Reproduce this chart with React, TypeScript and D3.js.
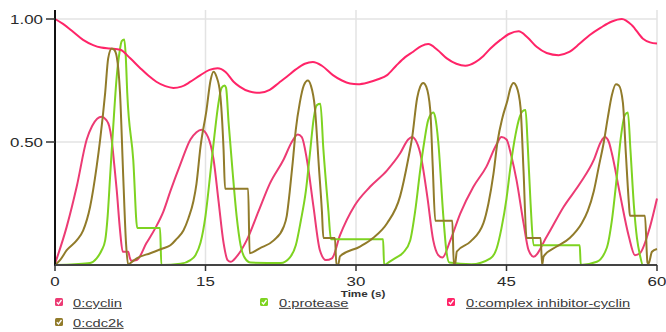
import React from "react";
import * as d3 from "d3";

type P = [number, number];

const seriesNames = ["0:cyclin", "0:protease", "0:complex inhibitor-cyclin", "0:cdc2k"];
const seriesColors = ["#ec3b74", "#7ed321", "#ff2468", "#917b2a"];
const xTicks = [0, 15, 30, 45, 60];
const yTicks = [0.5, 1.0];
const yTickLabels = ["0.50", "1.00"];

const cyclin: P[] = [
  [0, 0.005], [1.17, 0.156], [2.16, 0.318], [3.16, 0.51], [3.7, 0.565], [4.2, 0.595], [4.65, 0.603], [5.1, 0.59], [5.4, 0.565], [5.65, 0.51], [5.9, 0.41], [6.15, 0.305], [6.48, 0.142], [6.75, 0.054], [7.3, 0.054], [7.45, 0.03], [7.65, 0.017], [8.15, 0.02], [9.1, 0.088], [10.0, 0.15], [10.8, 0.217], [11.5, 0.3], [12.5, 0.41], [13.5, 0.51], [14.1, 0.54], [14.6, 0.55], [15.25, 0.52], [15.8, 0.43], [16.3, 0.26], [16.8, 0.09], [17.2, 0.02], [17.5, 0.013], [18.1, 0.034], [19.1, 0.1], [20.3, 0.22], [21.4, 0.33], [22.8, 0.43], [23.6, 0.5], [24.2, 0.53], [24.6, 0.52], [25.1, 0.43], [25.75, 0.24], [26.4, 0.06], [27.0, 0.02], [27.6, 0.027], [28.4, 0.12], [29.9, 0.244], [31.4, 0.318], [33.1, 0.385], [34.4, 0.454], [35.2, 0.51], [35.6, 0.52], [35.9, 0.51], [36.4, 0.455], [37.1, 0.28], [37.7, 0.1], [38.2, 0.04], [38.6, 0.03], [39.4, 0.1], [40.4, 0.21], [41.7, 0.318], [43.0, 0.4], [44.0, 0.49], [44.5, 0.52], [45.0, 0.51], [45.5, 0.44], [46.0, 0.345], [46.7, 0.17], [47.2, 0.06], [47.7, 0.034], [49.0, 0.115], [50.7, 0.237], [52.3, 0.33], [53.7, 0.427], [54.4, 0.5], [54.8, 0.52], [55.2, 0.5], [55.5, 0.454], [56.3, 0.29], [57.2, 0.115], [57.8, 0.04], [58.3, 0.048], [59.3, 0.155], [60, 0.27],
];

const protease: P[] = [
  [0, 0], [2, 0.003], [3.5, 0.008], [4.15, 0.027], [4.65, 0.06], [5.0, 0.1], [5.25, 0.2], [5.5, 0.365], [5.8, 0.56], [6.15, 0.765], [6.45, 0.87], [6.65, 0.91], [6.9, 0.917], [7.05, 0.85], [7.2, 0.7], [7.8, 0.427], [8.2, 0.15], [10.47, 0.15], [10.6, 0.0], [12.5, 0.005], [13.5, 0.02], [14.0, 0.04], [14.5, 0.09], [15.0, 0.2], [15.5, 0.38], [15.9, 0.53], [16.3, 0.66], [16.6, 0.72], [16.9, 0.73], [17.05, 0.72], [17.3, 0.58], [17.7, 0.38], [18.1, 0.2], [18.5, 0.08], [18.9, 0.03], [19.5, 0.01], [22.5, 0.008], [23.4, 0.03], [24.0, 0.08], [24.5, 0.18], [25.0, 0.3], [25.4, 0.45], [25.8, 0.6], [26.1, 0.65], [26.45, 0.655], [26.75, 0.47], [27.25, 0.22], [27.5, 0.105], [32.7, 0.105], [32.8, 0.0], [33.4, 0.015], [34.0, 0.03], [34.7, 0.05], [35.4, 0.1], [35.9, 0.22], [36.4, 0.386], [36.8, 0.5], [37.2, 0.59], [37.7, 0.62], [37.9, 0.6], [38.2, 0.5], [38.7, 0.2], [39.0, 0.06], [39.3, 0.01], [41.5, 0.003], [43.4, 0.027], [44.0, 0.065], [44.5, 0.15], [45.0, 0.27], [45.4, 0.4], [45.9, 0.53], [46.3, 0.6], [46.6, 0.625], [46.9, 0.63], [47.1, 0.5], [47.4, 0.25], [47.7, 0.08], [52.3, 0.08], [52.4, 0.0], [54.0, 0.013], [55.0, 0.07], [55.5, 0.18], [56.0, 0.36], [56.4, 0.52], [56.8, 0.61], [57.1, 0.62], [57.35, 0.47], [57.7, 0.24], [58.0, 0.11], [58.3, 0.04], [58.6, 0.0], [60, 0.0],
];

const complexInhibitorCyclin: P[] = [
  [0, 1.0], [0.8, 0.98], [1.8, 0.948], [2.8, 0.915], [3.8, 0.894], [4.6, 0.884], [5.5, 0.88], [6.5, 0.875], [7.5, 0.84], [8.5, 0.8], [9.3, 0.77], [10.1, 0.745], [11.0, 0.727], [11.8, 0.72], [12.6, 0.725], [13.5, 0.745], [14.5, 0.772], [15.4, 0.793], [16.2, 0.8], [17.0, 0.785], [17.8, 0.745], [18.4, 0.725], [19.4, 0.705], [20.4, 0.7], [21.4, 0.712], [22.3, 0.74], [23.1, 0.765], [24.0, 0.795], [24.9, 0.818], [25.7, 0.825], [26.6, 0.81], [27.7, 0.772], [28.6, 0.75], [29.4, 0.738], [30.2, 0.735], [31.2, 0.742], [32.2, 0.755], [33.1, 0.772], [34.0, 0.81], [34.9, 0.845], [35.7, 0.867], [36.5, 0.89], [37.2, 0.898], [38.1, 0.875], [39.05, 0.84], [40.0, 0.818], [40.9, 0.81], [41.9, 0.825], [42.7, 0.85], [43.4, 0.88], [44.4, 0.915], [45.3, 0.94], [46.2, 0.95], [47.1, 0.925], [48.0, 0.887], [49.0, 0.862], [50.2, 0.853], [51.2, 0.865], [52.3, 0.9], [53.3, 0.935], [54.4, 0.965], [55.5, 0.99], [56.5, 1.0], [57.5, 0.975], [58.6, 0.92], [59.3, 0.905], [60, 0.9],
];

const cdc2k: P[] = [
  [0, 0], [0.5, 0.02], [1.17, 0.06], [2.16, 0.1], [2.8, 0.14], [3.5, 0.237], [4.15, 0.4], [4.5, 0.51], [5.0, 0.7], [5.3, 0.84], [5.65, 0.88], [5.9, 0.875], [6.15, 0.847], [6.48, 0.7], [6.8, 0.36], [7.08, 0.088], [7.3, 0.0], [7.5, 0.007], [8.15, 0.027], [9.5, 0.048], [10.8, 0.068], [11.5, 0.08], [12.1, 0.105], [12.8, 0.14], [13.3, 0.19], [13.8, 0.26], [14.1, 0.33], [14.5, 0.48], [15.1, 0.63], [15.5, 0.75], [15.8, 0.786], [16.1, 0.765], [16.45, 0.7], [16.8, 0.47], [16.95, 0.31], [19.25, 0.31], [19.4, 0.048], [20.4, 0.068], [21.8, 0.1], [22.8, 0.156], [23.1, 0.2], [23.4, 0.3], [23.7, 0.42], [24.0, 0.55], [24.4, 0.66], [24.8, 0.73], [25.2, 0.75], [25.5, 0.73], [25.9, 0.64], [26.3, 0.4], [26.6, 0.22], [26.75, 0.11], [27.9, 0.11], [28.05, 0.0], [28.25, 0.005], [28.4, 0.035], [30.4, 0.075], [31.7, 0.11], [33.1, 0.17], [34.4, 0.28], [35.2, 0.43], [35.6, 0.52], [36.1, 0.68], [36.4, 0.725], [36.7, 0.74], [37.0, 0.725], [37.4, 0.63], [37.65, 0.4], [37.9, 0.18], [39.6, 0.18], [39.75, 0.0], [39.9, 0.01], [40.05, 0.055], [41.4, 0.095], [42.7, 0.17], [43.2, 0.25], [43.7, 0.37], [44.1, 0.5], [44.6, 0.6], [45.1, 0.67], [45.4, 0.72], [45.7, 0.74], [46.0, 0.725], [46.4, 0.64], [46.7, 0.38], [47.0, 0.11], [48.4, 0.11], [48.55, 0.0], [48.7, 0.035], [50.0, 0.075], [51.3, 0.11], [52.5, 0.17], [53.1, 0.22], [53.7, 0.3], [54.2, 0.4], [54.7, 0.5], [55.1, 0.6], [55.5, 0.69], [55.9, 0.735], [56.2, 0.73], [56.6, 0.66], [56.9, 0.45], [57.2, 0.25], [57.3, 0.2], [58.8, 0.2], [59.05, 0.01], [59.15, 0.005], [59.5, 0.054], [60, 0.065],
];

const seriesData = [cyclin, protease, complexInhibitorCyclin, cdc2k];

const W = 666;
const H = 332;
const X0 = 55;
const X1 = 657;
const Y0 = 265;
const Y1 = 19;
const PLOT_TOP = 10;
const FONT = "'Liberation Sans', Arial, sans-serif";

function SText(props: {
  x: number; y: number; sx: number; size: number; anchor?: string; weight?: string | number; fill?: string; underline?: boolean; children: React.ReactNode;
}) {
  const { x, y, sx, size, anchor = "start", weight = "normal", fill = "#333", underline = false, children } = props;
  return (
    <text
      transform={`translate(${x},${y}) scale(${sx},1)`}
      textAnchor={anchor as any}
      fontFamily={FONT}
      fontSize={size}
      fontWeight={weight as any}
      fill={fill}
      textDecoration={underline ? "underline" : undefined}
    >
      {children}
    </text>
  );
}

export default function App() {
  const x = d3.scaleLinear().domain([0, 60]).range([X0, X1]);
  const y = d3.scaleLinear().domain([0, 1]).range([Y0, Y1]);
  const line = d3
    .line<P>()
    .x((d) => x(d[0]))
    .y((d) => y(d[1]))
    .curve(d3.curveMonotoneX);

  const legendPos = [
    { bx: 55, by: 298, tx: 73 },
    { bx: 260, by: 298, tx: 279 },
    { bx: 447, by: 298, tx: 466 },
    { bx: 55, by: 318, tx: 73 },
  ];

  return (
    <svg width={W} height={H} style={{ position: "absolute", left: 0, top: 0, background: "#fff" }}>
      {/* grid */}
      {yTicks.map((t) => (
        <line key={"gy" + t} x1={X0} x2={X1} y1={y(t)} y2={y(t)} stroke="#e3e3e3" strokeWidth={1.5} />
      ))}
      {xTicks.slice(1).map((t) => (
        <line key={"gx" + t} x1={x(t)} x2={x(t)} y1={PLOT_TOP} y2={Y0} stroke="#e3e3e3" strokeWidth={1.5} />
      ))}
      {/* series */}
      {seriesData.map((d, i) => (
        <path key={"s" + i} d={line(d) || ""} fill="none" stroke={seriesColors[i]} strokeWidth={2} strokeLinejoin="round" />
      ))}
      {/* axes */}
      <line x1={X0} x2={X0} y1={PLOT_TOP} y2={Y0 + 1} stroke="#111" strokeWidth={2} />
      <line x1={X0} x2={X1} y1={Y0} y2={Y0} stroke="#444" strokeWidth={2} />
      {yTicks.map((t, i) => (
        <g key={"yt" + t}>
          <line x1={X0 - 9} x2={X0} y1={y(t)} y2={y(t)} stroke="#333" strokeWidth={1.5} />
          <SText x={43} y={y(t) + 4.7} sx={1.3} size={13} anchor="end" fill="#2a2a2a">
            {yTickLabels[i]}
          </SText>
        </g>
      ))}
      {xTicks.map((t) => (
        <g key={"xt" + t}>
          <line x1={x(t)} x2={x(t)} y1={Y0} y2={Y0 + 6} stroke="#333" strokeWidth={1.5} />
          <SText x={x(t)} y={285.5} sx={1.3} size={13} anchor="middle" fill="#2a2a2a">
            {String(t)}
          </SText>
        </g>
      ))}
      <SText x={363} y={296.5} sx={1.3} size={9} anchor="middle" weight="bold" fill="#333">
        Time (s)
      </SText>
      {/* legend */}
      {seriesNames.map((name, i) => {
        const p = legendPos[i];
        return (
          <g key={"lg" + i}>
            <rect x={p.bx} y={p.by} width={8} height={8} rx={1.5} fill={seriesColors[i]} />
            <path
              d={`M${p.bx + 1.8},${p.by + 4.2} L${p.bx + 3.5},${p.by + 6} L${p.bx + 6.5},${p.by + 2}`}
              fill="none"
              stroke="#fff"
              strokeWidth={1.3}
            />
            <SText x={p.tx} y={p.by + 9} sx={1.4} size={10.5} fill="#3a3a3a" underline>
              {name}
            </SText>
          </g>
        );
      })}
    </svg>
  );
}
